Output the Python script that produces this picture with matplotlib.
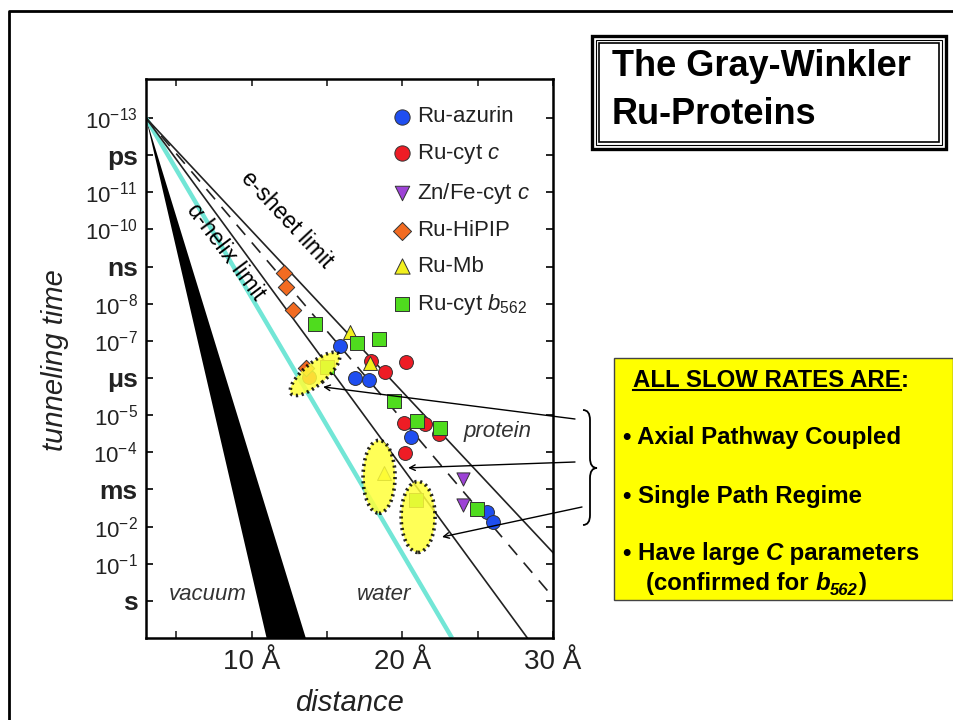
import numpy as np
import matplotlib.pyplot as plt
from matplotlib.patches import Ellipse, Rectangle, PathPatch
from matplotlib.path import Path
from matplotlib.lines import Line2D

plt.rcParams['font.family'] = ['Liberation Sans', 'DejaVu Sans']
plt.rcParams['mathtext.fontset'] = 'custom'
plt.rcParams['mathtext.rm'] = 'Liberation Sans'
plt.rcParams['mathtext.it'] = 'Liberation Sans:italic'
plt.rcParams['mathtext.bf'] = 'Liberation Sans:bold'
plt.rcParams['mathtext.default'] = 'regular'

W, H = 954, 720

#data: distance (A) and log10 of tunneling time (s)
azurin_r = [15.9, 16.87, 17.8, 20.6, 25.65, 26.0]
azurin_t = [-6.87, -6.0, -5.95, -4.4, -2.4, -2.13]

cytc_r = [17.9, 18.86, 20.26, 20.1, 21.5, 22.44, 20.2, 13.83]
cytc_t = [-6.45, -6.16, -6.43, -4.8, -4.76, -4.5, -3.98, -6.03]

znfe_r = [24.03, 24.03]
znfe_t = [-3.28, -2.59]

hipip_r = [12.16, 12.3, 12.77, 13.6]
hipip_t = [-8.83, -8.45, -7.83, -6.27]

mb_r = [16.54, 17.88, 18.8]
mb_t = [-7.24, -6.41, -3.44]

b562_r = [14.2, 17.0, 18.46, 15.0, 19.46, 20.98, 22.5, 24.96, 20.9]
b562_t = [-7.45, -6.94, -7.05, -6.3, -5.38, -4.83, -4.66, -2.47, -2.72]

#limit lines, start and end points
vacuum_r = [3.0, 11.0, 13.6]
vacuum_t = [-13.0, 1.0, 1.0]
water_r = [3.0, 23.3]
water_t = [-13.0, 1.0]
helix_r = [3.0, 28.3]
helix_t = [-13.0, 1.0]
mid_r = [3.0, 30.0]
mid_t = [-13.0, -0.1]
sheet_r = [3.0, 30.0]
sheet_t = [-13.0, -1.3]

#tick labels
ytick_pos = list(range(-13, 1))
ytick_lab = ['$10^{-13}$', 'ps', '$10^{-11}$', '$10^{-10}$', 'ns', '$10^{-8}$',
             '$10^{-7}$', 'μs', '$10^{-5}$', '$10^{-4}$', 'ms', '$10^{-2}$',
             '$10^{-1}$', 's']
xtick_pos = [5, 10, 15, 20, 25, 30]
xtick_lab = ['', '10 Å', '', '20 Å', '', '30 Å']


def fx(px):
    return px / W


def fy(py):
    return 1 - py / H


fig = plt.figure(figsize=(W / 100, H / 100), dpi=100)
ax = fig.add_axes([fx(146), fy(638), 407 / W, 559 / H])
ax.set_yscale('log')

#vacuum wedge and limit lines
ax.fill(vacuum_r, 10.0 ** np.array(vacuum_t), color='black', lw=0, zorder=2)
ax.plot(water_r, 10.0 ** np.array(water_t), color='#72e6d6', lw=3.2, zorder=2,
        solid_capstyle='butt')
ax.plot(helix_r, 10.0 ** np.array(helix_t), color='#222222', lw=1.2, zorder=2)
ax.plot(mid_r, 10.0 ** np.array(mid_t), color='#222222', lw=1.2, zorder=2,
        linestyle=(0, (8, 6)))
ax.plot(sheet_r, 10.0 ** np.array(sheet_t), color='#222222', lw=1.2, zorder=2)

#points
ec = dict(edgecolors='#333333', linewidths=0.7, zorder=3)
ax.scatter(azurin_r, 10.0 ** np.array(azurin_t), s=100, marker='o', c='#1f4ef0', label='Ru-azurin', **ec)
ax.scatter(cytc_r, 10.0 ** np.array(cytc_t), s=100, marker='o', c='#ee1c25', label=r'Ru-cyt $\mathit{c}$', **ec)
ax.scatter(znfe_r, 10.0 ** np.array(znfe_t), s=90, marker='v', c='#9d43d6', label=r'Zn/Fe-cyt $\mathit{c}$', **ec)
ax.scatter(hipip_r, 10.0 ** np.array(hipip_t), s=70, marker='D', c='#f26b21', label='Ru-HiPIP', **ec)
ax.scatter(mb_r, 10.0 ** np.array(mb_t), s=100, marker='^', c='#f2f01e', label='Ru-Mb', **ec)
ax.scatter(b562_r, 10.0 ** np.array(b562_t), s=90, marker='s', c='#4fdc1e', label=r'Ru-cyt $\mathit{b}_{562}$', **ec)

ax.set_xlim(3, 30)
ax.set_ylim(10.0 ** 1.0, 10.0 ** -14.05)
ax.set_xticks(xtick_pos)
ax.set_xticklabels(xtick_lab, fontsize=20)
ax.set_yticks([10.0 ** k for k in ytick_pos])
ax.set_yticklabels(ytick_lab, fontsize=16)
ax.minorticks_off()
for lbl in ax.get_yticklabels():
    lbl.set_color('#222222')
    if not lbl.get_text().startswith('$'):
        lbl.set_fontweight('bold')
        lbl.set_fontsize(19)
ax.tick_params(direction='in', length=5, width=1.2, top=True, right=True)
ax.tick_params(axis='y', pad=6)
ax.tick_params(axis='x', pad=8, colors='#222222')
for sp in ax.spines.values():
    sp.set_linewidth(1.8)

ax.legend(loc='upper left', bbox_to_anchor=(0.607, 0.951), frameon=False,
          fontsize=16, handlelength=0.8, handletextpad=0.3, labelspacing=0.66,
          borderpad=0, borderaxespad=0, labelcolor='#222222', markerscale=1.1)

#region labels
ax.text(12.36, 10 ** -10.25, 'e-sheet limit', rotation=-47, fontsize=16.5,
        ha='center', va='center', rotation_mode='anchor')
ax.text(8.31, 10 ** -9.39, 'α-helix limit', rotation=-53, fontsize=16.5,
        ha='center', va='center', rotation_mode='anchor')
ax.text(26.29, 10 ** -4.55, 'protein', style='italic', fontsize=16, color='#333333',
        ha='center', va='center')
ax.text(7.11, 10 ** -0.16, 'vacuum', style='italic', fontsize=16, color='#333333',
        ha='center', va='center')
ax.text(18.79, 10 ** -0.16, 'water', style='italic', fontsize=16, color='#333333',
        ha='center', va='center')

fig.text(fx(55), fy(360), 'tunneling time', rotation=90, style='italic',
         fontsize=21, ha='center', va='center', color='#222222')
fig.text(fx(349), fy(703), 'distance', style='italic', fontsize=21,
         ha='center', va='center', color='#222222')

#highlight ellipses around the slow points
fig.canvas.draw()


def data_in(r, lt):
    px = ax.transData.transform((r, 10.0 ** lt))
    return px / fig.dpi


ell = [((14.21, -6.11), 62, 22, 40), ((18.46, -3.34), 32, 73, 0), ((21.05, -2.26), 34, 71, 0)]
for (r, lt), w, h, ang in ell:
    e = Ellipse(data_in(r, lt), w / 100, h / 100, angle=ang, transform=fig.dpi_scale_trans,
                facecolor='#ffff3a', alpha=0.85, edgecolor='black', lw=2.6,
                linestyle=(0, (0.6, 1.0)), zorder=4)
    fig.add_artist(e)

#arrows from the brace
arrows = [((14.75, -5.76), (575, 419)), ((20.39, -3.58), (575, 462)), ((22.64, -1.72), (582, 507))]
for (r, lt), (tx, ty) in arrows:
    ax.annotate('', xy=(r, 10.0 ** lt), xycoords='data', xytext=(tx, H - ty),
                textcoords='figure pixels', annotation_clip=False,
                arrowprops=dict(arrowstyle='->', lw=1.0, color='black',
                                shrinkA=0, shrinkB=0, mutation_scale=10), zorder=5)

#brace
brace_pts = [(583, 410), (590, 410), (590, 420), (590, 458), (590, 468), (597, 468),
             (590, 468), (590, 478), (590, 515), (590, 525), (583, 525)]
brace_codes = [Path.MOVETO, Path.CURVE3, Path.CURVE3, Path.LINETO, Path.CURVE3, Path.CURVE3,
               Path.CURVE3, Path.CURVE3, Path.LINETO, Path.CURVE3, Path.CURVE3]
brace = Path([(fx(a), fy(b)) for a, b in brace_pts], brace_codes)
fig.add_artist(PathPatch(brace, transform=fig.transFigure, fill=False, lw=1.3, color='black'))

#slide frame
fig.add_artist(Line2D([fx(9), fx(9), fx(954)], [fy(720), fy(11), fy(11)],
                      transform=fig.transFigure, color='black', lw=2))

#title box
for inset, lw in [(0, 2.4), (4, 0.8), (7, 1.2)]:
    fig.add_artist(Rectangle((fx(592 + inset), fy(149 - inset)), (354 - 2 * inset) / W,
                             (113 - 2 * inset) / H, transform=fig.transFigure,
                             fill=False, lw=lw, color='black'))
fig.text(fx(612), fy(76), 'The Gray-Winkler', fontsize=26, fontweight='bold', va='baseline')
fig.text(fx(612), fy(124), 'Ru-Proteins', fontsize=26, fontweight='bold', va='baseline')

#yellow box
fig.add_artist(Rectangle((fx(614), fy(600)), 339 / W, 242 / H, transform=fig.transFigure,
                         facecolor='#ffff00', edgecolor='#444444', lw=1))
renderer = fig.canvas.get_renderer()
fs = 17.3


def rich(x, y, parts):
    for s, size, style, dy in parts:
        t = fig.text(fx(x), fy(y + dy), s, fontsize=size, fontweight='bold',
                     style=style, va='baseline')
        x += t.get_window_extent(renderer).width
    return x


head = fig.text(fx(633), fy(387), 'ALL SLOW RATES ARE', fontsize=fs,
                fontweight='bold', va='baseline')
hw = head.get_window_extent(renderer).width
fig.text(fx(633 + hw), fy(387), ':', fontsize=fs, fontweight='bold', va='baseline')
fig.add_artist(Line2D([fx(633), fx(633 + hw)], [fy(390), fy(390)],
                      transform=fig.transFigure, color='black', lw=1.5))
rich(623, 444, [('• Axial Pathway Coupled', fs, 'normal', 0)])
rich(623, 503, [('• Single Path Regime', fs, 'normal', 0)])
rich(623, 560, [('• Have large ', fs, 'normal', 0), ('C', fs, 'italic', 0),
                (' parameters', fs, 'normal', 0)])
rich(646, 590, [('(confirmed for ', fs, 'normal', 0), ('b', fs, 'italic', 0),
                ('562', 12, 'italic', 5), (')', fs, 'normal', 0)])

fig.savefig('out.png', dpi=100)
